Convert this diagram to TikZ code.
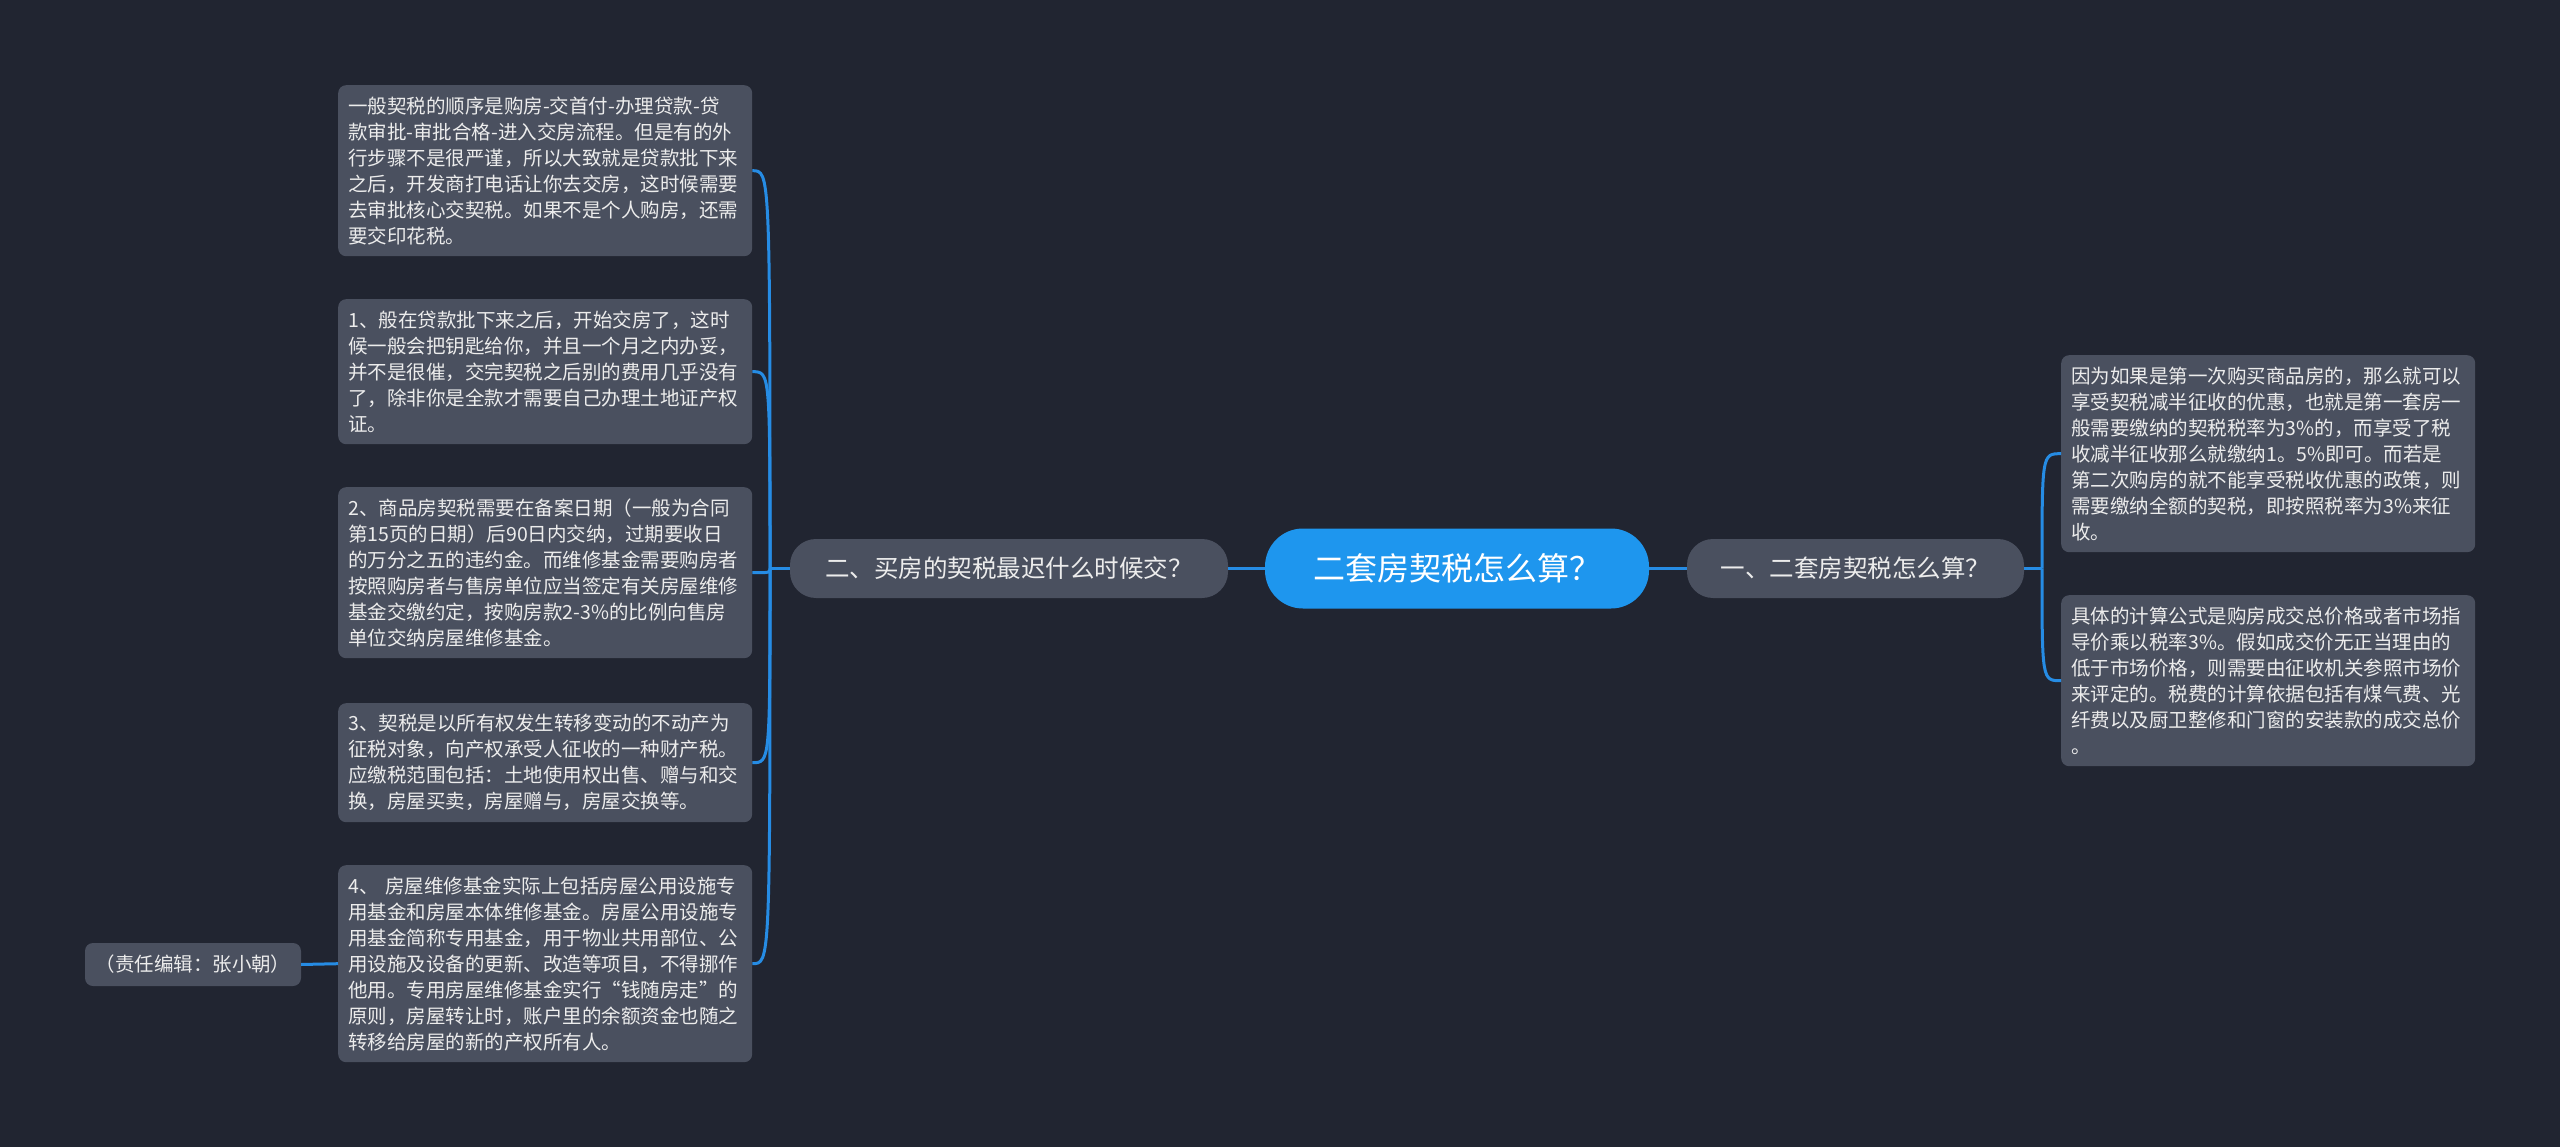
\documentclass[tikz,border=0pt]{standalone}
\usepackage{fontspec}
\setmainfont{Noto Sans CJK SC}
\definecolor{bg}{RGB}{33,37,49}
\definecolor{nodegray}{RGB}{74,80,95}
\definecolor{hub}{RGB}{30,150,238}
\definecolor{wire}{RGB}{38,140,228}
\definecolor{txt}{RGB}{236,236,236}
\tikzset{
  leaf/.style={fill=nodegray, rounded corners=8pt, text=txt,
    font=\fontsize{19.5}{26}\selectfont, text width=394pt,
    inner xsep=10pt, inner ysep=0pt, align=left, anchor=north west},
  sub/.style={fill=nodegray, rounded corners=26pt, text=txt,
    font=\fontsize{24.5}{30}\selectfont, inner sep=0pt, minimum height=59pt},
  hubnode/.style={fill=hub, rounded corners=38pt, text=white,
    font=\fontsize{32}{38}\selectfont, inner sep=0pt, minimum width=384pt, minimum height=80pt},
  tag/.style={fill=nodegray, rounded corners=8pt, text=txt,
    font=\fontsize{19.5}{26}\selectfont, inner sep=0pt, minimum width=216pt, minimum height=43pt},
  wireline/.style={draw=wire, line width=3pt}
}
\begin{document}
\begin{tikzpicture}[x=1pt,y=-1pt]
\fill[bg] (0,0) rectangle (2560,1147);
\useasboundingbox (0,0) rectangle (2560,1147);

\node[hubnode] (c) at (1457,568.5) {二套房契税怎么算？};
\node[sub, minimum width=438pt] (sl) at (1009,568.5) {二、买房的契税最迟什么时候交？};
\node[sub, minimum width=337pt] (sr) at (1855.5,568.5) {一、二套房契税怎么算？};

\node[leaf, minimum height=171pt] (l1) at (338,85) {一般契税的顺序是购房-交首付-办理贷款-贷\\款审批-审批合格-进入交房流程。但是有的外\\行步骤不是很严谨，所以大致就是贷款批下来\\之后，开发商打电话让你去交房，这时候需要\\去审批核心交契税。如果不是个人购房，还需\\要交印花税。};
\node[leaf, minimum height=145pt] (l2) at (338,299) {1、般在贷款批下来之后，开始交房了，这时\\候一般会把钥匙给你，并且一个月之内办妥，\\并不是很催，交完契税之后别的费用几乎没有\\了，除非你是全款才需要自己办理土地证产权\\证。};
\node[leaf, minimum height=171pt] (l3) at (338,487) {2、商品房契税需要在备案日期（一般为合同\\第15页的日期）后90日内交纳，过期要收日\\的万分之五的违约金。而维修基金需要购房者\\按照购房者与售房单位应当签定有关房屋维修\\基金交缴约定，按购房款2-3\%的比例向售房\\单位交纳房屋维修基金。};
\node[leaf, minimum height=119pt] (l4) at (338,703) {3、契税是以所有权发生转移变动的不动产为\\征税对象，向产权承受人征收的一种财产税。\\应缴税范围包括：土地使用权出售、赠与和交\\换，房屋买卖，房屋赠与，房屋交换等。};
\node[leaf, minimum height=197pt] (l5) at (338,865) {4、 房屋维修基金实际上包括房屋公用设施专\\用基金和房屋本体维修基金。房屋公用设施专\\用基金简称专用基金，用于物业共用部位、公\\用设施及设备的更新、改造等项目，不得挪作\\他用。专用房屋维修基金实行“钱随房走”的\\原则，房屋转让时，账户里的余额资金也随之\\转移给房屋的新的产权所有人。};

\node[leaf, minimum height=197pt] (r1) at (2061,355) {因为如果是第一次购买商品房的，那么就可以\\享受契税减半征收的优惠，也就是第一套房一\\般需要缴纳的契税税率为3\%的，而享受了税\\收减半征收那么就缴纳1。5\%即可。而若是\\第二次购房的就不能享受税收优惠的政策，则\\需要缴纳全额的契税，即按照税率为3\%来征\\收。};
\node[leaf, minimum height=171pt] (r2) at (2061,595) {具体的计算公式是购房成交总价格或者市场指\\导价乘以税率3\%。假如成交价无正当理由的\\低于市场价格，则需要由征收机关参照市场价\\来评定的。税费的计算依据包括有煤气费、光\\纤费以及厨卫整修和门窗的安装款的成交总价\\。};

\node[tag] (ed) at (193,964.5) {（责任编辑：张小朝）};

\coordinate (jl) at (770,568.5);
\coordinate (jr) at (2042,568.5);

\draw[wireline] (c.west) -- (sl.east);
\draw[wireline] (c.east) -- (sr.west);
\draw[wireline] (sl.west) -- (jl);
\draw[wireline] (sr.east) -- (jr);
\foreach \n in {l1,l2,l3,l4,l5}{
  \draw[wireline] (jl) .. controls (jl |- \n.east) .. (\n.east);
}
\foreach \n in {r1,r2}{
  \draw[wireline] (jr) .. controls (jr |- \n.west) .. (\n.west);
}
\draw[wireline] (l5.west) -- (ed.east);
\end{tikzpicture}
\end{document}
